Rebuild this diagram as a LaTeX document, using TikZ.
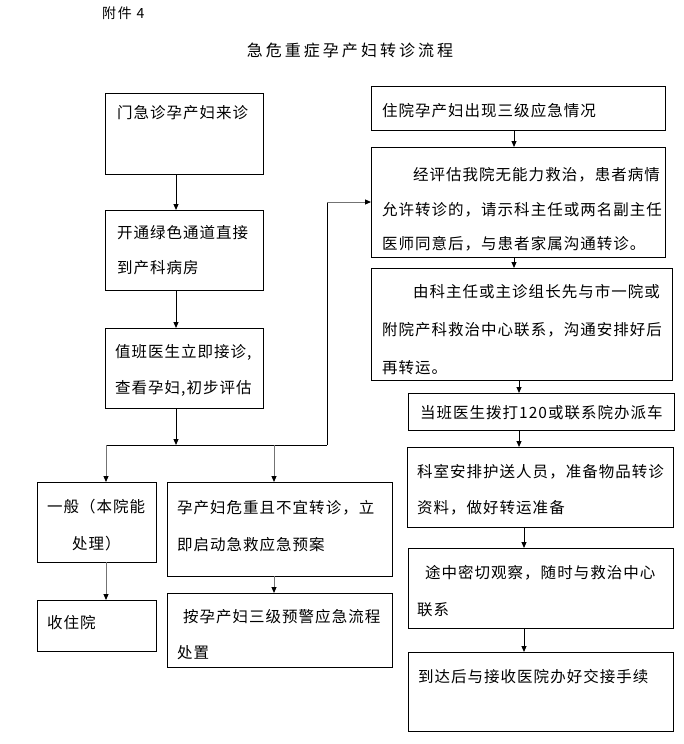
\documentclass[tikz,border=0pt]{standalone}
\usepackage{fontspec}
\newfontfamily\cjk[LetterSpace=6.5]{Noto Sans CJK SC}
\newfontfamily\cjkt[LetterSpace=19]{Noto Sans CJK SC}
\newfontfamily\cjkh[LetterSpace=12]{Noto Sans CJK SC}
\usetikzlibrary{arrows.meta}
\newcommand\mkbox[5]{\node[box,anchor=north west,minimum width={#4-#2},minimum height={#5-#3}] (#1) at (#2,#3) {};}
\begin{document}
\begin{tikzpicture}[x=1pt,y=-1pt,
  box/.style={draw=black,line width=1pt,inner sep=0pt,outer sep=0pt},
  txt/.style={font=\cjk\fontsize{15.5}{18}\selectfont,inner sep=0pt,anchor=west},
  arr/.style={draw=black,line width=1pt,-{Triangle[length=6pt,width=5pt]}},
  garr/.style={draw=black!55,line width=1pt,-{Triangle[length=6pt,width=5pt,color=black]}},
  ln/.style={draw=black,line width=1pt}]
\useasboundingbox (0,0) rectangle (684,744);
% header
\node[txt,font=\cjkh\fontsize{14}{16}\selectfont] (fj) at (102,13) {附件 4};
\node[txt,anchor=center,font=\cjkt\fontsize{16}{18}\selectfont] (title) at (350,50) {急危重症孕产妇转诊流程};
% left column
\mkbox{b1}{105}{93}{263}{174}
\mkbox{b2}{105}{210}{263}{290}
\mkbox{b3}{105}{328}{263}{408}
\node[txt] (t1) at (117,113) {门急诊孕产妇来诊};
\node[txt] (t2a) at (117,233) {开通绿色通道直接};
\node[txt] (t2b) at (117,268) {到产科病房};
\node[txt] (t3a) at (115,352) {值班医生立即接诊,};
\node[txt] (t3b) at (115,388) {查看孕妇,初步评估};
% lower left
\mkbox{g1}{37}{482}{156}{562}
\mkbox{g3}{37}{600}{156}{651}
\mkbox{g2}{167}{482}{392}{576}
\mkbox{g4}{167}{593}{392}{667}
\node[txt] (u1a) at (47,507) {一般（本院能};
\node[txt] (u1b) at (72,544) {处理）};
\node[txt] (u3) at (47,623) {收住院};
\node[txt] (u2a) at (177,508) {孕产妇危重且不宜转诊，立};
\node[txt] (u2b) at (177,545) {即启动急救应急预案};
\node[txt] (u4a) at (183,617) {按孕产妇三级预警应急流程};
\node[txt] (u4b) at (177,653) {处置};
% right column
\mkbox{r1}{371}{86}{665}{130}
\mkbox{r2}{371}{147}{665}{257}
\mkbox{r3}{371}{268}{672}{380}
\mkbox{r4}{408}{393}{674}{430}
\mkbox{r5}{407}{447}{673}{527}
\mkbox{r6}{408}{548}{673}{628}
\mkbox{r7}{408}{652}{673}{731}
\node[txt] (s1) at (382,111) {住院孕产妇出现三级应急情况};
\node[txt] (s2a) at (413,175) {经评估我院无能力救治，患者病情};
\node[txt] (s2b) at (382,210) {允许转诊的，请示科主任或两名副主任};
\node[txt] (s2c) at (382,244) {医师同意后，与患者家属沟通转诊。};
\node[txt] (s3a) at (413,292) {由科主任或主诊组长先与市一院或};
\node[txt] (s3b) at (382,330) {附院产科救治中心联系，沟通安排好后};
\node[txt] (s3c) at (382,368) {再转运。};
\node[txt] (s4) at (420,413) {当班医生拨打120或联系院办派车};
\node[txt] (s5a) at (417,472) {科室安排护送人员，准备物品转诊};
\node[txt] (s5b) at (417,508) {资料，做好转运准备};
\node[txt] (s6a) at (425,573) {途中密切观察，随时与救治中心};
\node[txt] (s6b) at (417,610) {联系};
\node[txt] (s7) at (418,677) {到达后与接收医院办好交接手续};
% helper coordinates
\coordinate (xl) at (176,0);
\coordinate (jm) at (176,445);
\coordinate (jl) at (106,445);
\coordinate (jr) at (274,445);
\coordinate (jc) at (327,445);
\coordinate (xa) at (514,0);
\coordinate (xb) at (519,0);
\coordinate (xc) at (524,0);
% left connectors
\draw[arr] (b1.south -| xl) -- (b2.north -| xl);
\draw[arr] (b2.south -| xl) -- (b3.north -| xl);
\draw[arr] (b3.south -| xl) -- (jm);
\draw[ln] (jl) -- (jc);
\draw[ln] (jc) -- (jc |- r2.west);
\draw[garr] (jc |- r2.west) -- (r2.west);
\draw[garr] (jl) -- (jl |- g1.north);
\draw[garr] (jr) -- (jr |- g2.north);
\draw[garr] (jl |- g1.south) -- (jl |- g3.north);
\draw[garr] (jr |- g2.south) -- (jr |- g4.north);
% right connectors
\draw[arr] (r1.south -| xa) -- (r2.north -| xa);
\draw[arr] (r2.south -| xa) -- (r3.north -| xa);
\draw[arr] (r3.south -| xb) -- (r4.north -| xb);
\draw[arr] (r4.south -| xb) -- (r5.north -| xb);
\draw[arr] (r5.south -| xc) -- (r6.north -| xc);
\draw[arr] (r6.south -| xc) -- (r7.north -| xc);
\end{tikzpicture}
\end{document}
